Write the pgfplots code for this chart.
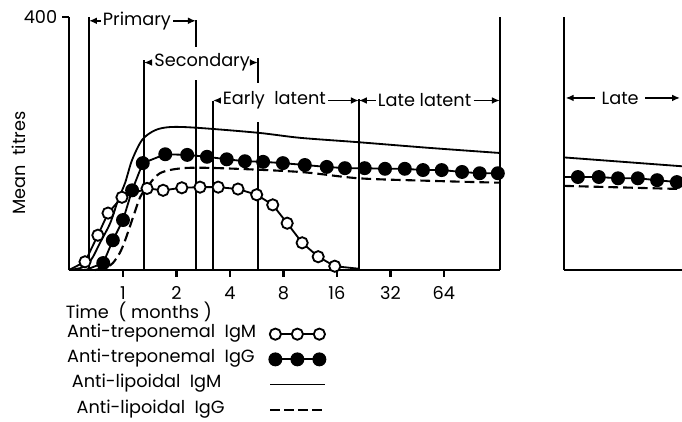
\documentclass[border=0pt]{standalone}
\usepackage{fontspec}
\setmainfont{Poppins}
\usepackage{pgfplots}
\usepackage{pgfplotstable}
\pgfplotsset{compat=1.18}
\usetikzlibrary{arrows.meta}

% x is log2(months): 0 = 1 month, 6 = 64 months
\pgfplotstableread{
u v
-1.01 0
-0.71 13
-0.47 55
-0.28 90
-0.02 115
0.45 129
0.75 126
1.10 130
1.44 131
1.78 131
2.15 128
2.50 119
2.80 103
3.07 74
3.35 43
3.65 21
3.96 6
4.41 2
}\trepIgM

\pgfplotstableread{
u v
-0.70 0
-0.37 11
-0.19 47
0.00 79
0.17 126
0.37 169
0.79 183
1.20 182
1.57 179
1.94 175
2.28 172
2.62 171
2.99 169
3.40 166
3.81 163
4.15 161
4.52 161
4.90 160
5.27 160
5.61 158
5.96 158
6.34 155
6.67 153
7.01 153
}\trepIgG

\pgfplotstableread{
u v
-1.01 0
-0.80 3
-0.67 8
-0.56 21
-0.43 43
-0.24 74
-0.09 111
0.04 138
0.17 174
0.36 206
0.60 221
0.88 226
1.36 225
2.52 217
3.31 209
4.41 202
5.74 193
7.05 185
}\lipIgM

\pgfplotstableread{
u v
-0.52 0
-0.30 5
-0.19 11
-0.06 27
0.04 47
0.19 84
0.32 115
0.45 131
0.69 153
1.12 161
1.81 161
3.31 155
4.41 145
5.74 141
7.05 138
}\lipIgG

% late stage panel
\pgfplotstableread{
u v
0 147
0.26 147
0.65 147
1.01 145
1.38 145
1.74 142
2.11 139
2.21 138
}\lateIgG

\newcommand\lfont{\fontsize{12.6}{14}\selectfont}
\tikzset{
  lab/.style={font=\lfont, inner sep=1.5pt},
  arr/.style={-{Latex[length=2mm,width=1.7mm]}, line width=1.3pt},
  stage/.style={line width=1.5pt},
}

\begin{document}
\begin{tikzpicture}
\path[use as bounding box] (0,0) rectangle (17.05cm,10.525cm);

\begin{axis}[
  at={(1.725cm,3.775cm)}, anchor=south west,
  scale only axis, width=10.775cm, height=6.325cm,
  xmin=-1.01, xmax=7.05, ymin=0, ymax=400,
  axis lines*=left,
  axis line style={-, line width=2.1pt},
  xtick={0,1,2,3,4,5,6}, xticklabels={1,2,4,8,16,32,64},
  ytick={400}, yticklabels={400},
  tick align=outside, major tick length=0.17cm,
  tick style={line width=1.7pt, black},
  tick label style={font=\lfont},
  xticklabel style={yshift=-0.12cm},
  xlabel={Time\ \ ( months )},
  xlabel style={at={(rel axis cs:0.162,-0.166)}, anchor=center, font=\lfont},
  ylabel={Mean\ \ titres},
  ylabel style={at={(rel axis cs:-0.116,0.423)}, anchor=center, font=\lfont},
  clip=false,
  legend style={at={(rel axis cs:-0.005,-0.228)}, anchor=north west,
                draw=none, fill=none, inner sep=0pt, column sep=0pt,
                row sep=3.2mm, font=\lfont,
                nodes={inner sep=0pt, text height=2.4mm, text depth=0.7mm}},
  legend cell align=left,
  legend plot pos=right,
]

% the repeated first legend point makes up for the skipped first mark
\addplot[line width=1.3pt, mark=*, mark size=4pt,
  mark options={fill=white, line width=1.3pt}, mark indices={2,...,17},
  legend image code/.code={\draw[line width=1.3pt, mark=*, mark size=4pt,
    mark options={fill=white}] plot coordinates {(0cm,0cm) (0cm,0cm) (0.55cm,0cm) (1.1cm,0cm)};}]
  table[x=u, y=v] {\trepIgM};
\addlegendentry{\makebox[5.05cm][l]{Anti-treponemal\ \ IgM}}

\addplot[line width=1.3pt, mark=*, mark size=4.3pt,
  mark options={fill=black}, mark indices={2,...,24},
  legend image code/.code={\draw[line width=1.3pt, mark=*, mark size=4.3pt,
    mark options={fill=black}] plot coordinates {(0cm,0cm) (0cm,0cm) (0.55cm,0cm) (1.1cm,0cm)};}]
  table[x=u, y=v] {\trepIgG};
\addlegendentry{\makebox[5.05cm][l]{Anti-treponemal\ \ IgG}}

\addplot[line width=1.3pt, smooth, tension=0.5,
  legend image code/.code={\draw[line width=1.3pt] (-0.13cm,0cm) -- (1.23cm,0cm);}]
  table[x=u, y=v] {\lipIgM};
\addlegendentry{\makebox[5.05cm][l]{\ Anti-lipoidal\ \ IgM}}

\addplot[line width=1.5pt, smooth, tension=0.5, dash pattern=on 7pt off 3.5pt,
  legend image code/.code={\draw[line width=1.5pt, dash pattern=on 7pt off 3pt] (-0.13cm,0cm) -- (1.2cm,0cm);}]
  table[x=u, y=v] {\lipIgG};
\addlegendentry{\makebox[5.05cm][l]{\ \ Anti-lipoidal\ \ IgG}}

% stage boundaries
\draw[stage] (axis cs:-0.636,0) -- (axis cs:-0.636,400);
\draw[stage] (axis cs:0.393,0) -- (axis cs:0.393,332);
\draw[stage] (axis cs:1.364,0) -- (axis cs:1.364,300);
\draw[stage] (axis cs:1.364,353) -- (axis cs:1.364,395);
\draw[stage] (axis cs:1.682,0) -- (axis cs:1.682,267);
\draw[stage] (axis cs:2.523,0) -- (axis cs:2.523,234);
\draw[stage] (axis cs:2.523,296) -- (axis cs:2.523,335);
\draw[stage] (axis cs:4.411,0) -- (axis cs:4.411,271);
\draw[stage] (axis cs:7.047,0) -- (axis cs:7.047,400);

\coordinate (L1) at (axis cs:-0.636,0);
\coordinate (L2) at (axis cs:0.393,0);
\coordinate (L3) at (axis cs:1.364,0);
\coordinate (L4) at (axis cs:1.682,0);
\coordinate (L5) at (axis cs:2.523,0);
\coordinate (L6) at (axis cs:4.411,0);
\coordinate (L7) at (axis cs:7.047,0);

\node[lab] (p) at (axis cs:0.26,394) {Primary};
\draw[arr] (p.west) -- (p.west -| L1);
\draw[arr] (p.east) -- (p.east -| L3);

\node[lab] (s) at (axis cs:1.48,328) {Secondary};
\draw[arr] (s.west) -- (s.west -| L2);
\draw[arr] (s.east) -- (s.east -| L5);

\node[lab] (e) at (axis cs:2.83,268) {Early\ \ latent};
\draw[arr] (e.west) -- (e.west -| L4);
\draw[arr] (e.east) -- (e.east -| L6);

\node[lab] (l) at (axis cs:5.64,268) {Late\ latent};
\draw[arr] (l.west) -- (l.west -| L6);
\draw[arr] (l.east) -- (l.east -| L7);
\end{axis}

\begin{axis}[
  at={(14.1cm,3.775cm)}, anchor=south west,
  scale only axis, width=2.95cm, height=6.325cm,
  xmin=0, xmax=2.206, ymin=0, ymax=400,
  axis lines*=left,
  axis line style={-, line width=2.1pt},
  xtick=\empty, ytick=\empty,
  clip=false,
]
\addplot[line width=1.3pt] coordinates {(0,178) (2.206,164)};
\addplot[line width=1.5pt, dash pattern=on 7pt off 3.5pt] coordinates {(0,133) (2.206,128)};
\addplot[line width=1.3pt, mark=*, mark size=4.3pt,
  mark options={fill=black}, mark indices={2,...,7}]
  table[x=u, y=v] {\lateIgG};

\node[lab] (t) at (axis cs:1.05,272) {Late};
\draw[arr] (t.west) ++(-3pt,0) -- (axis cs:0.03,272);
\draw[arr] (t.east) ++(3pt,0) -- (axis cs:2.17,272);
\end{axis}
\end{tikzpicture}
\end{document}
